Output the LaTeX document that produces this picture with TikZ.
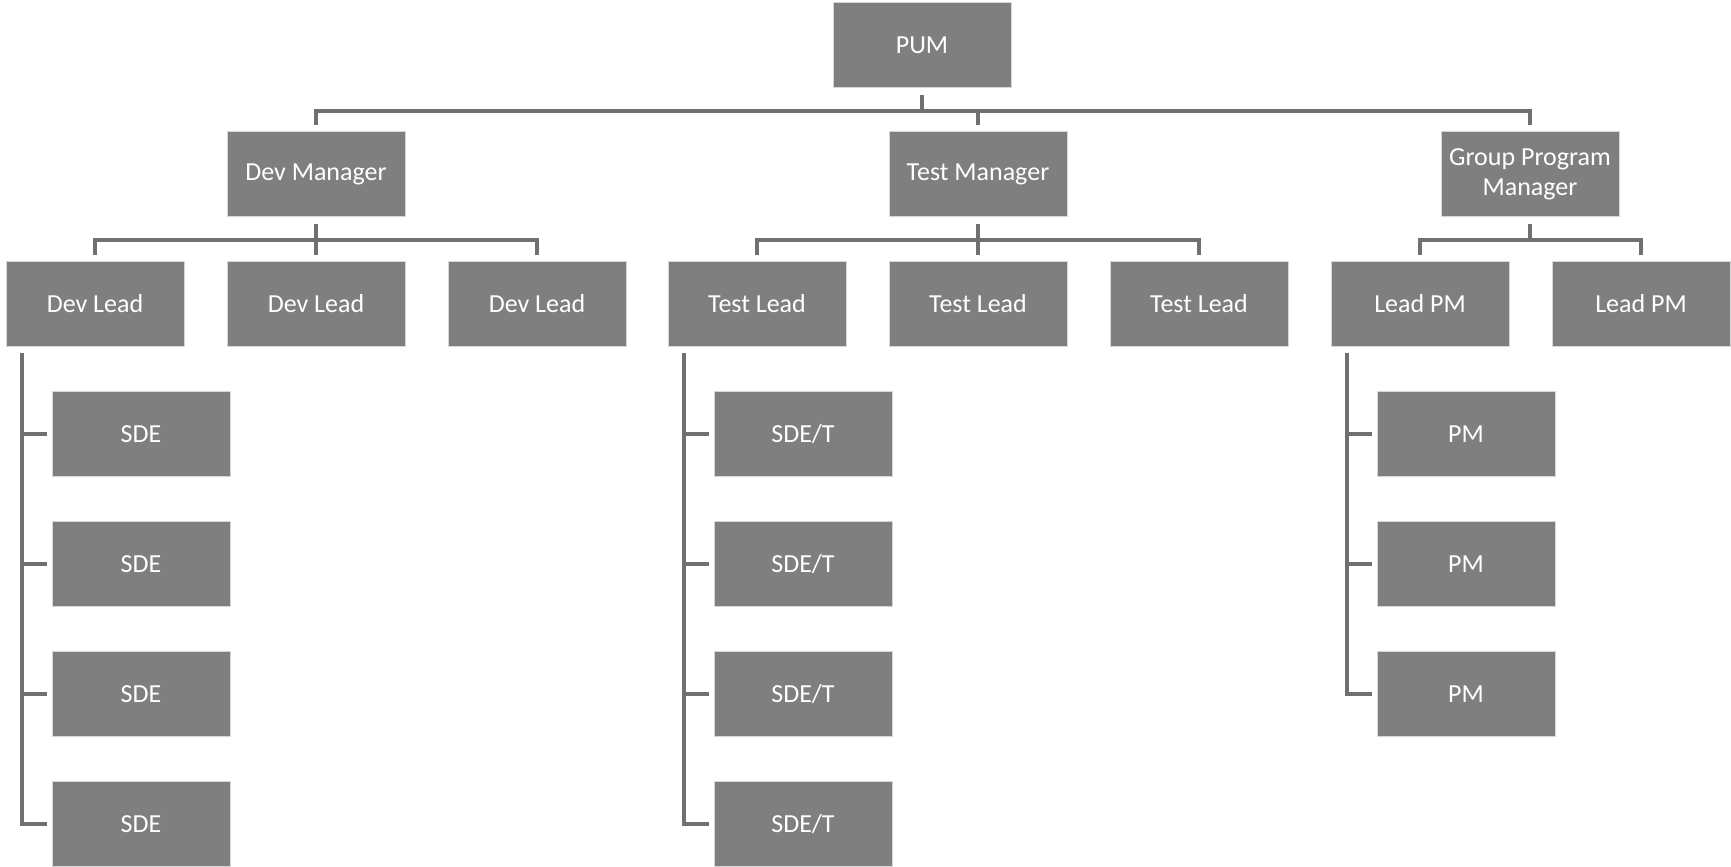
\documentclass[tikz,border=0pt]{standalone}
\usepackage{fontspec}
\setmainfont{Carlito}
\usetikzlibrary{calc}
\usetikzlibrary{positioning}

\definecolor{boxgray}{RGB}{127,127,127}
\definecolor{linegray}{RGB}{112,112,112}
\definecolor{edgegray}{RGB}{215,215,215}

\begin{document}
\begin{tikzpicture}[x=0.5pt, y=-0.5pt,
    role/.style={draw=edgegray, line width=0.5pt, fill=boxgray, text=white,
        minimum width=89pt, minimum height=42.5pt, inner sep=0pt, align=center,
        font=\fontsize{13}{15}\selectfont},
    link/.style={draw=linegray, line width=2pt}]
            % Canvas
            \useasboundingbox (0,0) rectangle (1731,867);

            % Top
            \node[role] (pum) at (922,45) {PUM};

            % Managers
            \node[role] (devmgr) at (316,174) {Dev Manager};
            \node[role] (testmgr) at (978,174) {Test Manager};
            \node[role] (gpm) at (1530,174) {Group Program\\Manager};

            % Leads
            \node[role] (devlead1) at (95,304) {Dev Lead};
            \node[role] (devlead2) at (316,304) {Dev Lead};
            \node[role] (devlead3) at (537,304) {Dev Lead};
            \node[role] (testlead1) at (757,304) {Test Lead};
            \node[role] (testlead2) at (978,304) {Test Lead};
            \node[role] (testlead3) at (1199,304) {Test Lead};
            \node[role] (leadpm1) at (1420,304) {Lead PM};
            \node[role] (leadpm2) at (1641,304) {Lead PM};

            % Staff under the first lead of each team
            \foreach \i/\y in {1/434, 2/564, 3/694, 4/824} {
                \node[role] (sde\i) at (141,\y) {SDE};
                \node[role] (sdet\i) at (803,\y) {SDE/T};
            }
            \foreach \i/\y in {1/434, 2/564, 3/694} {
                \node[role] (pm\i) at (1466,\y) {PM};
            }

            % Bus coordinates
            \coordinate (topbus) at (922,111);
            \coordinate (devbus) at (316,240);
            \coordinate (testbus) at (978,240);
            \coordinate (gpmbus) at (1530,240);
            \coordinate (devrail) at (22,353);
            \coordinate (testrail) at (684,353);
            \coordinate (pmrail) at (1347,353);

            % PUM to managers
            \draw[link] ([yshift=-3.5pt]pum.south) -- (topbus);
            \foreach \m in {devmgr, testmgr, gpm} {
                \draw[link] ([yshift=3pt]\m.north) |- (topbus);
            }

            % Managers to leads
            \draw[link] ([yshift=-3.5pt]devmgr.south) -- (devbus);
            \foreach \l in {devlead1, devlead2, devlead3} {
                \draw[link] ([yshift=3pt]\l.north) |- (devbus);
            }
            \draw[link] ([yshift=-3.5pt]testmgr.south) -- (testbus);
            \foreach \l in {testlead1, testlead2, testlead3} {
                \draw[link] ([yshift=3pt]\l.north) |- (testbus);
            }
            \draw[link] ([yshift=-3.5pt]gpm.south) -- (gpmbus);
            \foreach \l in {leadpm1, leadpm2} {
                \draw[link] ([yshift=3pt]\l.north) |- (gpmbus);
            }

            % Leads to staff
            \foreach \i in {1,2,3,4} {
                \draw[link] ([xshift=-2.5pt]sde\i.west) -| (devrail);
                \draw[link] ([xshift=-2.5pt]sdet\i.west) -| (testrail);
            }
            \foreach \i in {1,2,3} {
                \draw[link] ([xshift=-2.5pt]pm\i.west) -| (pmrail);
            }

        \end{tikzpicture}
\end{document}
